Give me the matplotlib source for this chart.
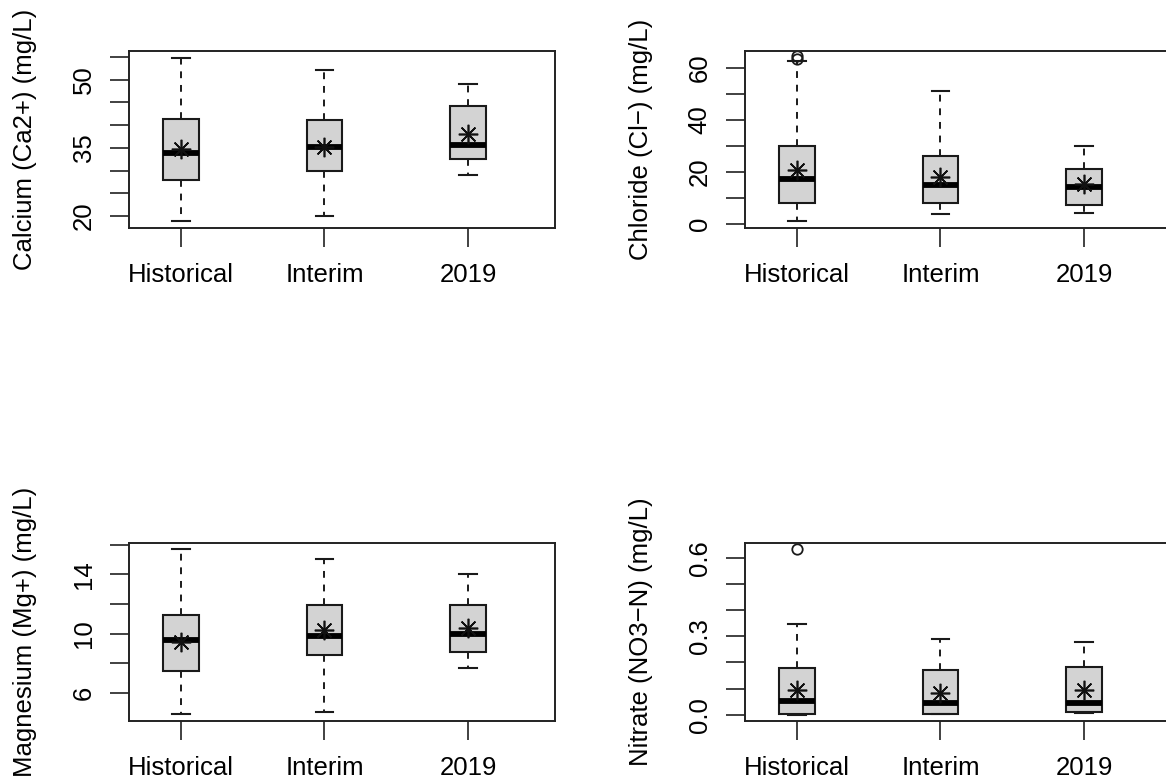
import matplotlib
matplotlib.use("Agg")
import matplotlib.pyplot as plt
import numpy as np

plt.rcParams['font.family'] = ['Liberation Sans', 'DejaVu Sans']

groups = ["Historical", "Interim", "2019"]

# Calcium (mg/L)
ca_whislo = [19.0, 20.0, 29.1]
ca_q1 = [27.9, 30.0, 32.5]
ca_med = [33.8, 35.1, 35.6]
ca_q3 = [41.3, 41.1, 44.1]
ca_whishi = [54.8, 52.2, 49.1]
ca_mean = [34.7, 35.1, 38.1]
ca_fliers = [[], [], []]

# Chloride (mg/L)
cl_whislo = [1.2, 3.7, 4.3]
cl_q1 = [7.9, 7.9, 7.3]
cl_med = [17.2, 15.0, 14.2]
cl_q3 = [29.8, 26.1, 21.0]
cl_whishi = [62.6, 50.9, 29.8]
cl_mean = [20.7, 17.9, 15.2]
cl_fliers = [[63.3, 64.3], [], []]

# Magnesium (mg/L)
mg_whislo = [4.61, 4.72, 7.71]
mg_q1 = [7.46, 8.54, 8.74]
mg_med = [9.55, 9.87, 9.98]
mg_q3 = [11.28, 11.96, 11.96]
mg_whishi = [15.69, 15.02, 14.0]
mg_mean = [9.44, 10.27, 10.38]
mg_fliers = [[], [], []]

# Nitrate (mg/L)
no_whislo = [0.0, 0.003, 0.005]
no_q1 = [0.004, 0.004, 0.012]
no_med = [0.052, 0.046, 0.046]
no_q3 = [0.180, 0.169, 0.182]
no_whishi = [0.347, 0.290, 0.279]
no_mean = [0.094, 0.084, 0.094]
no_fliers = [[0.632], [], []]

ylabels = ["Calcium (Ca2+) (mg/L)", "Chloride (Cl\u2212) (mg/L)",
           "Magnesium (Mg+) (mg/L)", "Nitrate (NO3\u2212N) (mg/L)"]

ca_ticks = [20, 25, 30, 35, 40, 45, 50, 55]
ca_labels = ["20", "", "", "35", "", "", "50", ""]
cl_ticks = [0, 10, 20, 30, 40, 50, 60]
cl_labels = ["0", "", "20", "", "40", "", "60"]
mg_ticks = [6, 8, 10, 12, 14, 16]
mg_labels = ["6", "", "10", "", "14", ""]
no_ticks = [0.0, 0.1, 0.2, 0.3, 0.4, 0.5, 0.6]
no_labels = ["0.0", "", "", "0.3", "", "", "0.6"]

panels = [
    (ca_whislo, ca_q1, ca_med, ca_q3, ca_whishi, ca_mean, ca_fliers, ca_ticks, ca_labels, (17.37, 56.35)),
    (cl_whislo, cl_q1, cl_med, cl_q3, cl_whishi, cl_mean, cl_fliers, cl_ticks, cl_labels, (-1.5, 66.5)),
    (mg_whislo, mg_q1, mg_med, mg_q3, mg_whishi, mg_mean, mg_fliers, mg_ticks, mg_labels, (4.11, 16.09)),
    (no_whislo, no_q1, no_med, no_q3, no_whishi, no_mean, no_fliers, no_ticks, no_labels, (-0.024, 0.655)),
]

W, H = 1166, 781
fig = plt.figure(figsize=(W / 100, H / 100), dpi=100)

# axes rectangles in pixels: (left, top, right, bottom)
rects = [(129, 50.7, 555, 228), (745, 50.7, 1171, 228),
         (129, 543.3, 555, 721), (745, 543.3, 1171, 721)]

FS = 18.5
for i, (p, r) in enumerate(zip(panels, rects)):
    wl, q1, md, q3, wh, mn, fl, ticks, tlabels, ylim = p
    l, t, rr, b = r
    ax = fig.add_axes([l / W, 1 - b / H, (rr - l) / W, (b - t) / H])
    stats = []
    for k, g in enumerate(groups):
        stats.append(dict(label=g, whislo=wl[k], q1=q1[k], med=md[k], q3=q3[k],
                          whishi=wh[k], mean=mn[k], fliers=fl[k]))
    ax.bxp(stats, positions=[1, 2, 3], widths=0.25, patch_artist=True,
           showmeans=True, showfliers=True,
           boxprops=dict(facecolor='#d3d3d3', edgecolor='#1a1a1a', linewidth=1.5),
           medianprops=dict(color='black', linewidth=4.2, solid_capstyle='butt'),
           whiskerprops=dict(color='#1a1a1a', linewidth=1.4, linestyle=(0, (3.5, 3.5))),
           capprops=dict(color='#1a1a1a', linewidth=1.5),
           capwidths=0.125,
           meanprops=dict(marker=(8, 2, 0), markersize=14, markeredgecolor='#111111',
                          markerfacecolor='none', markeredgewidth=1.2),
           flierprops=dict(marker='o', markersize=7.5, markerfacecolor='none',
                           markeredgecolor='#1a1a1a', markeredgewidth=1.3))
    ax.set_xlim(0.638, 3.606)
    ax.set_ylim(*ylim)
    ax.set_xticks([1, 2, 3])
    ax.set_xticklabels(groups, fontsize=FS)
    ax.set_yticks(ticks)
    ax.set_yticklabels(tlabels, fontsize=FS, rotation=90, va='center')
    ax.tick_params(axis='both', length=14, width=1.3, color='#333333')
    ax.tick_params(axis='x', pad=11)
    ax.tick_params(axis='y', pad=10)
    for s in ax.spines.values():
        s.set_linewidth(1.4)
        s.set_color('#222222')
    ax.set_ylabel(ylabels[i], fontsize=FS)
    ax.yaxis.set_label_coords(-92 / (rr - l), 0.5)

fig.savefig("out.png", dpi=100)
